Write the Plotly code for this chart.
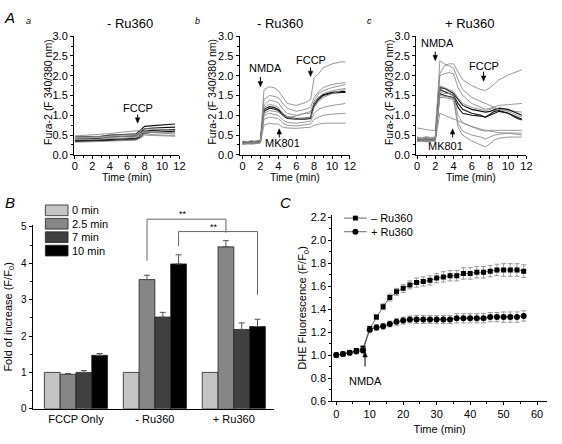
import plotly.graph_objects as go

W, H = 562, 444
FONT = "Liberation Sans, Arial, sans-serif"

# ---------------- Panel A data (Fura-2 ratio traces) ----------------
TA = [0, 1, 2, 3, 4, 5, 6, 7, 7.5, 8, 9, 10, 11.5]
A_a = [
    [0.45, 0.45, 0.46, 0.47, 0.50, 0.51, 0.52, 0.53, 0.62, 0.72, 0.74, 0.76, 0.78],
    [0.40, 0.40, 0.41, 0.42, 0.45, 0.46, 0.47, 0.48, 0.56, 0.66, 0.68, 0.69, 0.70],
    [0.36, 0.36, 0.37, 0.38, 0.39, 0.40, 0.41, 0.42, 0.50, 0.60, 0.62, 0.63, 0.64],
    [0.34, 0.34, 0.35, 0.36, 0.37, 0.38, 0.38, 0.39, 0.45, 0.55, 0.57, 0.58, 0.60],
    [0.48, 0.49, 0.50, 0.52, 0.54, 0.56, 0.58, 0.60, 0.62, 0.66, 0.65, 0.64, 0.62],
    [0.44, 0.45, 0.45, 0.46, 0.48, 0.50, 0.51, 0.52, 0.55, 0.60, 0.58, 0.57, 0.56],
    [0.42, 0.42, 0.43, 0.44, 0.45, 0.46, 0.47, 0.48, 0.52, 0.58, 0.56, 0.55, 0.53],
    [0.38, 0.38, 0.39, 0.40, 0.41, 0.42, 0.43, 0.44, 0.48, 0.53, 0.51, 0.50, 0.49],
    [0.32, 0.32, 0.33, 0.34, 0.35, 0.36, 0.37, 0.37, 0.42, 0.50, 0.49, 0.48, 0.47],
]
A_a_dark = [True, True, True, True, False, False, False, False, False]

TB = [0, 0.5, 1, 1.5, 2, 2.4, 3, 3.5, 4, 4.5, 5, 6, 7, 7.6, 8, 8.5, 9, 10, 11, 11.5]
A_b = [
    [0.35, 0.33, 0.36, 0.34, 0.38, 1.65, 1.72, 1.70, 1.62, 1.45, 1.30, 1.25, 1.32, 1.40, 1.95, 2.05, 2.20, 2.30, 2.35, 2.35],
    [0.30, 0.32, 0.30, 0.33, 0.35, 1.40, 1.50, 1.48, 1.45, 1.30, 1.18, 1.10, 1.15, 1.20, 1.45, 1.60, 1.70, 1.78, 1.82, 1.83],
    [0.28, 0.30, 0.29, 0.31, 0.33, 1.25, 1.38, 1.36, 1.32, 1.15, 1.05, 1.00, 1.05, 1.05, 1.35, 1.55, 1.62, 1.70, 1.75, 1.78],
    [0.33, 0.31, 0.34, 0.32, 0.36, 1.15, 1.22, 1.20, 1.15, 1.02, 0.95, 0.92, 0.93, 0.95, 1.30, 1.45, 1.52, 1.58, 1.60, 1.60],
    [0.30, 0.28, 0.30, 0.29, 0.32, 1.10, 1.18, 1.16, 1.12, 1.00, 0.92, 0.90, 0.90, 0.92, 1.25, 1.40, 1.50, 1.56, 1.58, 1.58],
    [0.27, 0.29, 0.28, 0.30, 0.31, 1.05, 1.12, 1.10, 1.08, 1.00, 0.95, 0.98, 1.05, 1.10, 1.30, 1.45, 1.55, 1.62, 1.66, 1.68],
    [0.32, 0.34, 0.33, 0.35, 0.37, 1.20, 1.28, 1.25, 1.20, 1.05, 0.97, 0.90, 0.92, 0.95, 1.20, 1.35, 1.45, 1.55, 1.62, 1.65],
    [0.26, 0.28, 0.27, 0.28, 0.30, 1.00, 1.05, 1.02, 1.00, 0.88, 0.82, 0.80, 0.82, 0.85, 1.05, 1.15, 1.20, 1.25, 1.28, 1.30],
    [0.30, 0.29, 0.31, 0.30, 0.32, 0.90, 0.95, 0.93, 0.92, 0.80, 0.75, 0.73, 0.75, 0.78, 0.90, 0.95, 1.00, 1.03, 1.05, 1.05],
    [0.29, 0.31, 0.30, 0.32, 0.33, 0.75, 0.80, 0.78, 0.78, 0.70, 0.68, 0.67, 0.68, 0.70, 0.75, 0.78, 0.80, 0.80, 0.80, 0.80],
]
A_b_dark = [False, False, False, True, True, False, False, False, False, False]

TC = [0, 0.5, 1, 1.5, 2, 2.5, 3, 3.5, 4, 4.5, 5, 6, 7, 7.5, 8, 8.5, 9, 10, 11, 11.5]
A_c = [
    [0.68, 0.66, 0.64, 0.62, 0.62, 2.05, 2.25, 2.30, 2.30, 2.10, 1.90, 1.75, 1.65, 1.63, 1.70, 1.80, 1.90, 2.02, 2.10, 2.15],
    [0.42, 0.40, 0.43, 0.41, 0.42, 2.38, 2.30, 2.25, 2.20, 1.90, 1.65, 1.45, 1.35, 1.30, 1.25, 1.20, 1.15, 1.12, 1.10, 1.08],
    [0.45, 0.43, 0.46, 0.44, 0.45, 2.00, 2.05, 2.08, 2.05, 1.70, 1.50, 1.30, 1.20, 1.15, 1.18, 1.22, 1.25, 1.27, 1.28, 1.30],
    [0.38, 0.36, 0.40, 0.37, 0.39, 1.65, 1.60, 1.55, 1.50, 1.30, 1.15, 1.05, 1.00, 0.95, 1.00, 1.05, 1.10, 1.05, 0.95, 0.90],
    [0.35, 0.37, 0.34, 0.38, 0.36, 1.55, 1.50, 1.48, 1.45, 1.20, 1.05, 1.00, 0.98, 0.95, 1.02, 1.10, 1.12, 1.05, 0.92, 0.88],
    [0.40, 0.38, 0.41, 0.39, 0.40, 1.70, 1.68, 1.62, 1.55, 1.40, 1.25, 1.15, 1.10, 1.08, 1.10, 1.15, 1.18, 1.15, 1.05, 1.00],
    [0.43, 0.41, 0.44, 0.42, 0.44, 1.60, 1.55, 1.55, 1.50, 1.00, 0.80, 0.70, 0.62, 0.60, 0.62, 0.62, 0.62, 0.62, 0.62, 0.62],
    [0.36, 0.34, 0.37, 0.35, 0.37, 1.50, 1.48, 1.46, 1.42, 0.80, 0.60, 0.50, 0.45, 0.40, 0.45, 0.50, 0.52, 0.55, 0.55, 0.55],
    [0.39, 0.37, 0.40, 0.38, 0.38, 1.45, 1.45, 1.42, 1.40, 0.70, 0.50, 0.35, 0.25, 0.20, 0.28, 0.38, 0.42, 0.45, 0.45, 0.45],
    [0.34, 0.36, 0.33, 0.35, 0.34, 1.05, 1.00, 0.95, 0.90, 0.85, 0.80, 0.72, 0.65, 0.62, 0.60, 0.58, 0.56, 0.55, 0.52, 0.50],
    [0.41, 0.39, 0.42, 0.40, 0.41, 1.75, 1.70, 1.65, 1.60, 1.45, 1.30, 1.20, 1.15, 1.12, 1.15, 1.18, 1.15, 1.10, 1.00, 0.95],
]
A_c_dark = [False, False, False, True, True, True, False, False, False, False, False]

A_titles = ["- Ru360", "- Ru360", "+ Ru360"]
A_letters = ["a", "b", "c"]
A_xtitle = "Time (min)"
A_ytitle = "Fura-2 (F 340/380 nm)"

# ---------------- Panel B data (bar chart) ----------------
B_categories = ["FCCP Only", "- Ru360", "+ Ru360"]
B_series = ["0 min", "2.5 min", "7 min", "10 min"]
B_values = [
    [1.00, 1.00, 1.00],   # 0 min
    [0.95, 3.55, 4.45],   # 2.5 min
    [1.00, 2.52, 2.18],   # 7 min
    [1.47, 3.98, 2.26],   # 10 min
]
B_errors = [
    [0.00, 0.00, 0.00],
    [0.02, 0.12, 0.17],
    [0.05, 0.13, 0.18],
    [0.05, 0.25, 0.20],
]
B_colors = ["#c4c4c4", "#868686", "#404040", "#000000"]

# ---------------- Panel C data (DHE fluorescence) ----------------
C_time = list(range(0, 57, 2))
C_minus = [1.00, 1.01, 1.02, 1.04, 1.06, 1.23, 1.33, 1.42, 1.50, 1.55, 1.58, 1.61, 1.63, 1.64, 1.65,
           1.67, 1.68, 1.69, 1.69, 1.71, 1.71, 1.72, 1.72, 1.73, 1.74, 1.74, 1.74, 1.74, 1.73]
C_minus_err = [0.005, 0.01, 0.01, 0.015, 0.02, 0.02, 0.02, 0.025, 0.03, 0.03, 0.035, 0.035, 0.04, 0.04, 0.04,
               0.04, 0.045, 0.045, 0.045, 0.05, 0.05, 0.05, 0.05, 0.05, 0.05, 0.055, 0.055, 0.055, 0.055]
C_plus = [1.00, 1.01, 1.02, 1.03, 1.04, 1.22, 1.24, 1.25, 1.27, 1.29, 1.30, 1.31, 1.31, 1.31, 1.31,
          1.31, 1.31, 1.31, 1.32, 1.32, 1.32, 1.32, 1.32, 1.33, 1.33, 1.33, 1.33, 1.33, 1.34]
C_plus_err = [0.005, 0.01, 0.01, 0.015, 0.02, 0.02, 0.025, 0.025, 0.025, 0.03, 0.03, 0.03, 0.035, 0.035, 0.035,
              0.035, 0.035, 0.035, 0.04, 0.04, 0.04, 0.04, 0.04, 0.04, 0.04, 0.045, 0.045, 0.045, 0.045]
C_names = ["\u2013 Ru360", "+ Ru360"]

# ---------------- layout geometry (pixels) ----------------
def px(x):
    return x / W

def py(y):
    return 1 - y / H

AX = {  # axis number -> (x pixel domain, x range, y pixel domain (top, bottom), y range)
    1: ((73, 180), (-0.11, 12), (31, 153), (0, 3)),
    2: ((241, 353), (-0.33, 12), (31, 153), (0, 3)),
    3: ((420, 532), (-0.11, 12), (31, 153), (0, 3)),
    4: ((31, 276), (-0.55, 2.51), (225.1, 414), (0, 5.05)),
    5: ((335, 553), (-1.2, 63), (214.6, 406), (0.6, 2.22)),
}

def to_px(n, x, y):
    (xd0, xd1), (xr0, xr1), (yd0, yd1), (yr0, yr1) = AX[n]
    X = xd0 + (x - xr0) / (xr1 - xr0) * (xd1 - xd0)
    Y = yd1 - (y - yr0) / (yr1 - yr0) * (yd1 - yd0)
    return X, Y

fig = go.Figure()

axis_common = dict(showline=True, linecolor="black", linewidth=1, ticks="outside", ticklen=3,
                   tickwidth=1, tickcolor="black", showgrid=False, zeroline=False,
                   tickfont=dict(size=11, color="black", family=FONT),
                   title_font=dict(size=11, color="black", family=FONT))

def dom(n):
    (xd0, xd1), xr, (yd0, yd1), yr = AX[n]
    return dict(domain=[px(xd0), px(xd1)], range=list(xr)), dict(domain=[py(yd1), py(yd0)], range=list(yr))

annotations = []
shapes = []

def txt(text, x, y, size=11, xref="paper", yref="paper", xanchor="center", yanchor="middle", angle=0):
    annotations.append(dict(text=text, x=x, y=y, xref=xref, yref=yref, showarrow=False,
                            xanchor=xanchor, yanchor=yanchor, textangle=angle, borderpad=0,
                            font=dict(size=size, color="black", family=FONT)))

layout_axes = {}
A_ytitle_x = [46, 213, 392]
for i, (traces, dark, T) in enumerate([(A_a, A_a_dark, TA), (A_b, A_b_dark, TB), (A_c, A_c_dark, TC)]):
    n = i + 1
    for tr, dk in zip(traces, dark):
        fig.add_trace(go.Scatter(x=T, y=tr, mode="lines", xaxis=f"x{n}", yaxis=f"y{n}",
                                 line=dict(color="#111111" if dk else "#8c8c8c", width=1.1 if dk else 0.9),
                                 showlegend=False, hoverinfo="skip"))
    xdom, ydom = dom(n)
    layout_axes[f"xaxis{n}"] = dict(axis_common, **xdom, anchor=f"y{n}", dtick=2, tick0=0,
                                    ticklabelstandoff=-2,
                                    minor=dict(dtick=1, ticklen=2, ticks="outside", tickcolor="black"))
    layout_axes[f"yaxis{n}"] = dict(axis_common, **ydom, anchor=f"x{n}", dtick=0.5, tickformat=".1f",
                                    minor=dict(dtick=0.25, ticklen=2, ticks="outside", tickcolor="black"))
    (xd0, xd1), _, _, _ = AX[n]
    txt(A_xtitle, px((xd0 + xd1) / 2), py(176), size=10.5)
    txt(A_ytitle, px(A_ytitle_x[i]), py(88), size=10.5, angle=-90)

# Panel B bars
for s, name in enumerate(B_series):
    fig.add_trace(go.Bar(x=B_categories, y=B_values[s], name=name, xaxis="x4", yaxis="y4",
                         marker=dict(color=B_colors[s], line=dict(color="#222222", width=0.8)),
                         error_y=dict(type="data", symmetric=False, array=B_errors[s],
                                      arrayminus=[0] * len(B_errors[s]),
                                      color="#555555", thickness=1, width=3,
                                      visible=any(e > 0 for e in B_errors[s])),
                         showlegend=False, hoverinfo="skip"))

xdom, ydom = dom(4)
layout_axes["xaxis4"] = dict(axis_common, **xdom, anchor="y4", ticks="", type="category")
layout_axes["yaxis4"] = dict(axis_common, **ydom, anchor="x4", dtick=1,
                             tickfont=dict(size=10, color="black", family=FONT),
                             minor=dict(dtick=0.5, ticklen=2, ticks="outside", tickcolor="black"),
                             title=dict(text="Fold of increase (F/F<sub>0</sub>)", standoff=6))

# Panel C lines
C_symbols = ["square", "circle"]
C_sizes = [5, 6]
for name, yv, ev, sym, sz in zip(C_names, [C_minus, C_plus], [C_minus_err, C_plus_err], C_symbols, C_sizes):
    fig.add_trace(go.Scatter(x=C_time, y=yv, mode="lines+markers", name=name,
                             xaxis="x5", yaxis="y5",
                             line=dict(color="#444444", width=0.8),
                             marker=dict(symbol=sym, size=sz, color="black"),
                             error_y=dict(type="data", array=ev, color="#9a9a9a", thickness=1, width=2.5),
                             showlegend=False, hoverinfo="skip"))

xdom, ydom = dom(5)
layout_axes["xaxis5"] = dict(axis_common, **xdom, anchor="y5", dtick=10, tick0=0,
                             minor=dict(dtick=5, ticklen=2, ticks="outside", tickcolor="black"),
                             title=dict(text="Time (min)", standoff=6))
layout_axes["yaxis5"] = dict(axis_common, **ydom, anchor="x5", dtick=0.2, tick0=0.6, tickformat=".1f",
                             minor=dict(dtick=0.1, ticklen=2, ticks="outside", tickcolor="black"),
                             title=dict(text="DHE Fluorescence (F/F<sub>0</sub>)", standoff=0))

def arrow(n, x, y_tail, y_head):
    X, Yt = to_px(n, x, y_tail)
    _, Yh = to_px(n, x, y_head)
    d = 1 if Yh > Yt else -1
    base = Yh - d * 5.5
    shapes.append(dict(type="line", xref="paper", yref="paper", x0=px(X), x1=px(X),
                       y0=py(Yt), y1=py(base), line=dict(color="black", width=1)))
    shapes.append(dict(type="path", xref="paper", yref="paper",
                       path=f"M {px(X - 2.3)} {py(base)} L {px(X + 2.3)} {py(base)} L {px(X)} {py(Yh)} Z",
                       fillcolor="black", line=dict(color="black", width=0.5)))

# Panel labels
txt("<i>A</i>", px(8), py(12), size=15)
txt("<i>B</i>", px(8), py(202), size=15)
txt("<i>C</i>", px(288), py(202), size=15)
for letter, cx in zip(A_letters, [27, 198, 373]):
    txt(f"<i>{letter}</i>", px(cx), py(15), size=9)
for title, cx in zip(A_titles, [130, 282, 475]):
    txt(title, px(cx), py(18), size=13)

# Panel A event annotations (data coordinates)
txt("FCCP", 7.2, 1.19, xref="x1", yref="y1")
arrow(1, 7.2, 1.02, 0.80)
txt("NMDA", 2.6, 2.19, xref="x2", yref="y2")
arrow(2, 2.0, 1.97, 1.72)
txt("FCCP", 7.6, 2.41, xref="x2", yref="y2")
arrow(2, 7.6, 2.21, 1.98)
txt("MK801", 4.5, 0.31, xref="x2", yref="y2")
arrow(2, 4.1, 0.44, 0.66)
txt("NMDA", 2.3, 2.83, xref="x3", yref="y3")
arrow(3, 2.0, 2.61, 2.38)
txt("FCCP", 7.3, 2.24, xref="x3", yref="y3")
arrow(3, 7.3, 2.10, 1.86)
txt("MK801", 3.1, 0.22, xref="x3", yref="y3")
arrow(3, 3.9, 0.44, 0.66)

# Panel C NMDA annotation
txt("NMDA", 8.6, 0.77, xref="x5", yref="y5")
arrow(5, 8.6, 0.90, 1.03)

# Panel B legend (drawn boxes)
for s, name in enumerate(B_series):
    yc = 210 + s * 13.8
    shapes.append(dict(type="rect", xref="paper", yref="paper", x0=px(44), x1=px(67),
                       y0=py(yc + 5.5), y1=py(yc - 5.5), fillcolor=B_colors[s],
                       line=dict(color="#222222", width=0.8)))
    txt(name, px(70), py(yc), size=11, xanchor="left")

# Panel C legend (drawn line + marker samples)
for k, name in enumerate(C_names):
    yc = 218 + k * 14
    shapes.append(dict(type="line", xref="paper", yref="paper", x0=px(347), x1=px(370),
                       y0=py(yc), y1=py(yc), line=dict(color="#444444", width=0.8)))
    if C_symbols[k] == "square":
        shapes.append(dict(type="rect", xref="paper", yref="paper", x0=px(356), x1=px(361),
                           y0=py(yc + 2.5), y1=py(yc - 2.5), fillcolor="black", line=dict(width=0)))
    else:
        shapes.append(dict(type="circle", xref="paper", yref="paper", x0=px(355.5), x1=px(361.5),
                           y0=py(yc + 3), y1=py(yc - 3), fillcolor="black", line=dict(width=0)))
    txt(name, px(373), py(yc), size=11, xanchor="left")

# Panel B significance brackets
def bpos(cat_index, series_index):
    return cat_index - 0.3 + 0.2 * series_index

brackets = [  # (cat left, cat right, series, top, left leg end, right leg end)
    (1, 2, 1, 5.21, 4.07, 4.84),
    (1, 2, 3, 4.87, 4.47, 3.13),
]
for c0, c1, s, top, l_end, r_end in brackets:
    X0, Yl = to_px(4, bpos(c0, s), l_end)
    X1, Yr = to_px(4, bpos(c1, s), r_end)
    _, Yt = to_px(4, 0, top)
    path = (f"M {px(X0)} {py(Yl)} L {px(X0)} {py(Yt)} "
            f"L {px(X1)} {py(Yt)} L {px(X1)} {py(Yr)}")
    shapes.append(dict(type="path", xref="paper", yref="paper", path=path,
                       line=dict(color="#666666", width=1)))
    txt("**", px((X0 + X1) / 2 - 4), py(Yt - 5), size=9)

fig.update_layout(
    width=W, height=H, margin=dict(l=0, r=0, t=0, b=0),
    paper_bgcolor="white", plot_bgcolor="white",
    font=dict(family=FONT, size=11, color="black"),
    barmode="group", bargap=0.2, bargroupgap=0,
    showlegend=False, hovermode=False,
    annotations=annotations, shapes=shapes,
    **layout_axes,
)

fig.write_html("out.html", config={"displayModeBar": False, "staticPlot": True},
               post_script="document.body.style.margin='0';")
